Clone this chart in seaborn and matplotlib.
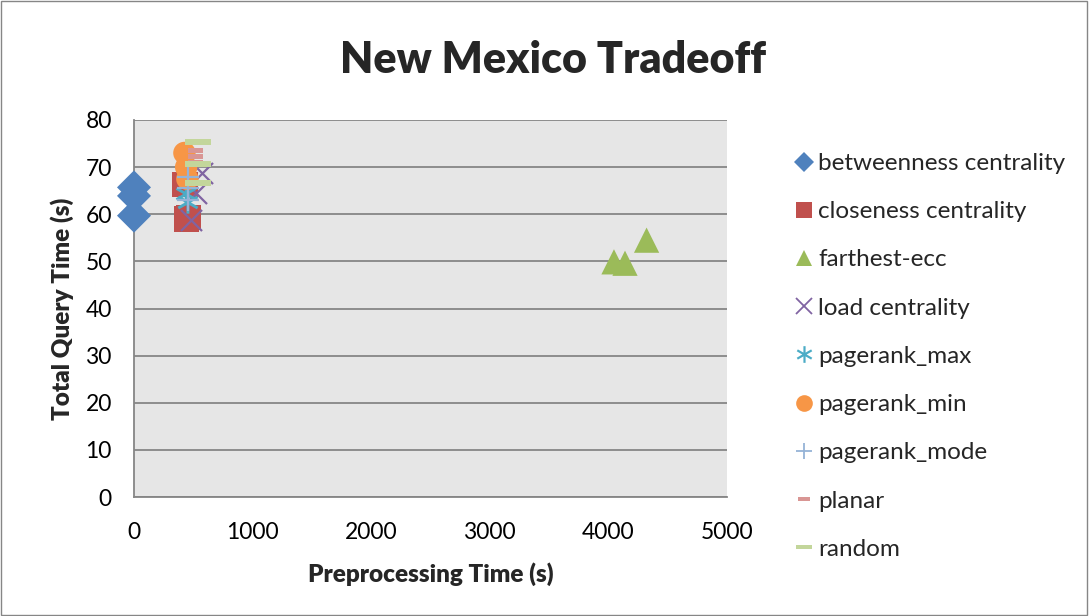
import matplotlib
matplotlib.use("Agg")
import matplotlib.pyplot as plt
from matplotlib.lines import Line2D
from matplotlib.path import Path
import pandas as pd
import seaborn as sns

# Preprocessing time (s) and total query time (s) per heuristic
betweenness_x = [0, 0, 0]
betweenness_y = [65.7, 63.9, 59.7]
closeness_x = [430, 445, 460]
closeness_y = [66.3, 59.0, 59.3]
farthest_x = [4047, 4140, 4322]
farthest_y = [49.9, 49.6, 54.5]
load_x = [480, 525, 570]
load_y = [58.8, 64.5, 68.7]
prmax_x = [440, 455]
prmax_y = [64.3, 62.5]
prmin_x = [425, 440, 450]
prmin_y = [73.0, 70.0, 67.5]
prmode_x = [458, 458, 458]
prmode_y = [68.0, 65.5, 63.0]
planar_x = [520, 520, 520]
planar_y = [73.5, 72.3, 71.0]
random_x = [540, 540, 540]
random_y = [75.3, 70.7, 66.6]

series_names = ["betweenness centrality", "closeness centrality", "farthest-ecc",
                "load centrality", "pagerank_max", "pagerank_min",
                "pagerank_mode", "planar", "random"]
xs = [betweenness_x, closeness_x, farthest_x, load_x, prmax_x, prmin_x,
      prmode_x, planar_x, random_x]
ys = [betweenness_y, closeness_y, farthest_y, load_y, prmax_y, prmin_y,
      prmode_y, planar_y, random_y]

colors = ["#4F81BD", "#C0504D", "#9BBB59", "#8064A2", "#4BACC6",
          "#F79646", "#95B3D7", "#D99694", "#C3D69B"]

short_dash = Path([(-1, -0.35), (1, -0.35), (1, 0.35), (-1, 0.35), (-1, -0.35)],
                  [Path.MOVETO, Path.LINETO, Path.LINETO, Path.LINETO, Path.CLOSEPOLY])
long_dash = Path([(-1, -0.22), (1, -0.22), (1, 0.22), (-1, 0.22), (-1, -0.22)],
                 [Path.MOVETO, Path.LINETO, Path.LINETO, Path.LINETO, Path.CLOSEPOLY])

markers = ["D", "s", "^", "x", "$\u2217$", "o", "+", short_dash, long_dash]
sizes = [300, 330, 330, 230, 260, 260, 260, 110, 350]

sns.set_theme(style="white")
plt.rcParams["font.family"] = ["Lato", "DejaVu Sans"]

fig = plt.figure(figsize=(10.89, 6.16), dpi=100)
ax = fig.add_axes([134 / 1089, 1 - 497 / 616, (727 - 134) / 1089, (497 - 120) / 616])
ax.set_facecolor("#E6E6E6")

for name, x, y, c, m, s in zip(series_names, xs, ys, colors, markers, sizes):
    df = pd.DataFrame({"x": x, "y": y})
    kw = dict(marker=m, s=s, color=c, legend=False, ax=ax, zorder=3, clip_on=False)
    if m in ("x", "+"):
        kw["linewidth"] = 1.6
    else:
        kw["edgecolor"] = "none"
        kw["linewidth"] = 0
    sns.scatterplot(data=df, x="x", y="y", **kw)

ax.set_xlim(0, 5000)
ax.set_ylim(0, 80)
ax.set_xticks(range(0, 5001, 1000))
ax.set_yticks(range(0, 81, 10))
ax.yaxis.grid(True, color="#868686", linewidth=1.3)
ax.set_axisbelow(True)
for side in ("top", "right"):
    ax.spines[side].set_visible(False)
for side in ("left", "bottom"):
    ax.spines[side].set_color("#868686")
    ax.spines[side].set_linewidth(1.3)
ax.tick_params(axis="both", which="both", length=6, width=1.3, color="#868686",
               labelsize=16.5, direction="out", labelcolor="black")
ax.tick_params(axis="x", pad=12)
ax.tick_params(axis="y", pad=10)
ax.set_xlabel("Preprocessing Time (s)", fontsize=17.5, fontweight="heavy", labelpad=14)
ax.set_ylabel("Total Query Time (s)", fontsize=17.5, fontweight="heavy", labelpad=8)
fig.text(553 / 1089, 1 - 60 / 616, "New Mexico Tradeoff", fontsize=31,
         fontweight="heavy", ha="center", va="center")

handles = []
leg_sizes = [10, 11, 11, 11, 12, 12, 12, 9, 12]
for c, m, ms in zip(colors, markers, leg_sizes):
    mew = 1.3 if m in ("x", "+") else 0
    handles.append(Line2D([], [], linestyle="none", marker=m, color=c,
                          markersize=ms, markeredgewidth=mew,
                          markeredgecolor=c if mew else "none"))
fig.legend(handles, series_names, loc="upper left",
           bbox_to_anchor=(794 / 1089, 1 - 153 / 616), frameon=False,
           fontsize=17.5, handlelength=0.8, handletextpad=0.2,
           labelspacing=1.12, borderaxespad=0, borderpad=0)

# light frame around the whole chart
fig.patches.append(plt.Rectangle((0.001, 0.002), 0.997, 0.996, transform=fig.transFigure,
                                 fill=False, edgecolor="#868686", linewidth=1))

fig.savefig("out.png", dpi=100, facecolor="white")
